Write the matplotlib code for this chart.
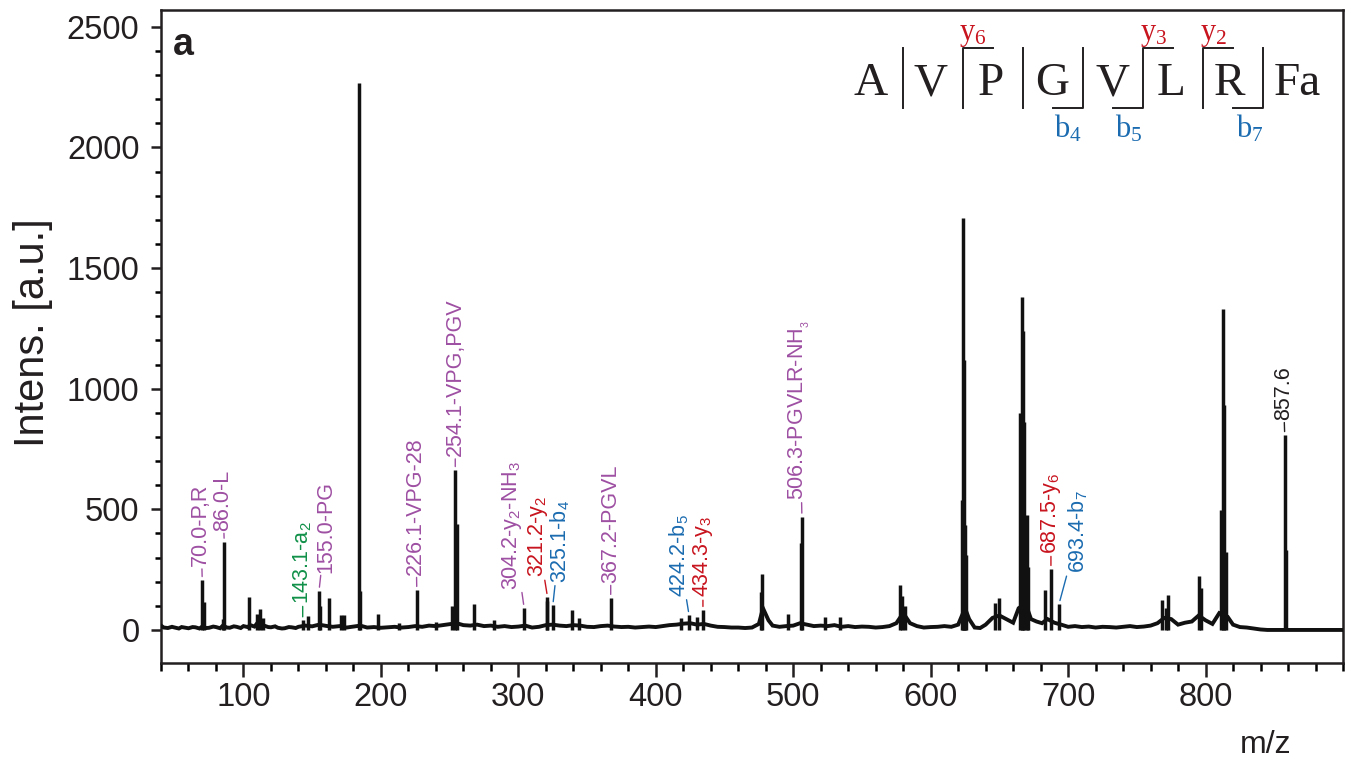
import matplotlib
matplotlib.use("Agg")
import matplotlib.pyplot as plt
from matplotlib.lines import Line2D

plt.rcParams['font.family'] = ['Liberation Sans', 'DejaVu Sans']
plt.rcParams['mathtext.fontset'] = 'custom'
plt.rcParams['mathtext.rm'] = 'Liberation Sans'
plt.rcParams['mathtext.default'] = 'regular'

# ---------------- data ----------------
# baseline / noise trace of the spectrum (m/z, intensity)
baseline_mz = [40, 42, 45, 48, 50, 53, 55, 58, 60, 63, 65, 68, 70, 73, 75, 78, 80, 83, 85, 88,
               90, 93, 95, 98, 100, 103, 105, 108, 110, 113, 115, 118, 120, 123, 125, 128,
               130, 133, 135, 138, 140, 145, 150, 155, 160, 165, 170, 175, 180, 185, 190, 195,
               200, 205, 210, 215, 220, 225, 230, 235, 240, 245, 250, 255, 260, 265, 270, 275,
               280, 285, 290, 295, 300, 305, 310, 315, 320, 325, 330, 335, 340, 345, 350, 355,
               360, 365, 370, 375, 380, 385, 390, 395, 400, 405, 410, 415, 420, 425, 430, 435,
               440, 445, 450, 455, 460, 465, 470, 475, 478, 482, 485, 490, 495, 500, 505, 510,
               515, 520, 525, 530, 535, 540, 545, 550, 555, 560, 565, 570, 575, 580, 585, 590,
               595, 600, 605, 610, 615, 620, 625, 628, 632, 636, 640, 645, 650, 655, 660, 664,
               669, 673, 677, 681, 685, 690, 695, 700, 705, 710, 715, 720, 725, 730, 735, 740,
               745, 750, 755, 760, 765, 770, 775, 780, 785, 790, 795, 800, 805, 810, 816, 820,
               825, 830, 835, 840, 845, 900]
baseline_int = [18, 10, 8, 13, 10, 6, 12, 9, 7, 12, 11, 6, 14, 8, 9, 14, 12, 7, 18, 10,
                9, 15, 13, 8, 16, 12, 20, 14, 28, 22, 18, 12, 11, 15, 9, 6,
                7, 12, 11, 8, 13, 18, 15, 22, 17, 13, 16, 10, 14, 18, 10, 12,
                9, 11, 13, 10, 12, 16, 13, 18, 16, 20, 24, 28, 20, 18, 22, 16,
                18, 13, 16, 12, 14, 18, 10, 13, 20, 22, 18, 16, 20, 18, 13, 12,
                16, 18, 14, 12, 13, 10, 12, 14, 12, 16, 20, 22, 26, 28, 22, 25,
                18, 13, 12, 10, 10, 8, 10, 25, 90, 40, 18, 13, 16, 18, 28, 22,
                16, 18, 16, 20, 13, 16, 12, 14, 13, 10, 12, 16, 28, 70, 28, 16,
                10, 12, 13, 16, 13, 22, 90, 45, 10, 8, 22, 50, 60, 45, 30, 90,
                110, 45, 35, 28, 45, 30, 22, 13, 16, 12, 14, 10, 13, 12, 10, 13,
                16, 12, 14, 18, 28, 50, 45, 22, 30, 35, 60, 40, 25, 70, 55, 22,
                12, 10, 6, 2, 0, 0]

# individual peaks (m/z, intensity)
peak_mz = [70.0, 71.0, 85.0, 86.0, 104.0, 110.0, 112.0, 114.0, 143.1, 147.0, 155.0, 156.0,
           162.0, 171.0, 173.0, 184.0, 185.0, 198.0, 213.0, 226.1, 240.0, 252.0, 254.1, 255.0,
           268.0, 282.0, 304.2, 320.5, 321.2, 325.1, 339.0, 344.0, 367.2, 418.0, 424.2, 430.0,
           434.3, 476.5, 477.3, 496.0, 505.5, 506.3, 523.0, 534.0, 578.0, 579.5, 581.5, 622.5,
           623.4, 624.3, 625.0, 626.0, 647.0, 650.0, 665.0, 666.6, 667.3, 668.0, 670.0, 671.0,
           683.0, 687.5, 693.4, 768.0, 771.0, 773.0, 795.0, 797.0, 811.0, 812.5, 813.5, 815.0,
           857.6, 858.3]
peak_int = [207, 117, 45, 366, 135, 65, 85, 50, 40, 59, 163, 100,
            134, 63, 60, 2268, 160, 66, 30, 166, 35, 100, 663, 440,
            108, 40, 92, 120, 137, 103, 83, 50, 133, 50, 62, 55,
            83, 157, 232, 66, 362, 470, 54, 54, 187, 140, 100, 539,
            1708, 1120, 435, 311, 112, 133, 900, 1381, 1240, 860, 477, 260,
            166, 253, 108, 124, 90, 145, 225, 174, 497, 1331, 933, 325,
            808, 332]

# annotations
ann_mz = [70.0, 86.0, 143.1, 155.0, 226.1, 254.1, 304.2, 321.2, 325.1, 367.2,
          424.2, 434.3, 506.3, 687.5, 693.4, 857.6]
ann_text = ['70.0-P,R', '86.0-L', '143.1-a$_2$', '155.0-PG', '226.1-VPG-28',
            '254.1-VPG,PGV', '304.2-y$_2$-NH$_3$', '321.2-y$_2$', '325.1-b$_4$',
            '367.2-PGVL', '424.2-b$_5$', '434.3-y$_3$', '506.3-PGVLR-NH$_{_3}$',
            '687.5-y$_6$', '693.4-b$_7$', '857.6']
ann_kind = ['other', 'other', 'a', 'other', 'other', 'other', 'other', 'y', 'b',
            'other', 'b', 'y', 'other', 'y', 'b', 'parent']

x_ticks = [100, 200, 300, 400, 500, 600, 700, 800]
y_ticks = [0, 500, 1000, 1500, 2000, 2500]

# peptide sequence
residues = ['A', 'V', 'P', 'G', 'V', 'L', 'R', 'Fa']

# ---------------- styling ----------------
kind_color = {'other': '#9e4fa2', 'y': '#c8141e', 'b': '#1a6bb0', 'a': '#109048',
              'parent': '#231f20'}
# label offsets in points (dx, dy) from the peak top
ann_offset = {70.0: (-1, 10), 86.0: (-1, 8), 143.1: (0, 12), 155.0: (5, 13),
              226.1: (-1, 11), 254.1: (0, 10), 304.2: (-8.5, 13), 321.2: (-7, 14),
              325.1: (5, 16), 367.2: (0, 11), 424.2: (-7, 13), 434.3: (0, 9),
              506.3: (-1.5, 12), 687.5: (0, 11), 693.4: (14, 22), 857.6: (-1, 11)}

W, H = 1350, 763
fig = plt.figure(figsize=(W / 100, H / 100), dpi=100)
ax = fig.add_axes([161 / W, 1 - 663 / H, (1343 - 161) / W, (663 - 10) / H])

ink = '#111111'
ax.plot(baseline_mz, baseline_int, color=ink, lw=2.8, solid_joinstyle='miter', zorder=3)
ax.vlines(peak_mz, 0, peak_int, color=ink, lw=2.5, zorder=3)

peak_lookup = dict(zip(peak_mz, peak_int))
for mz, txt, kind in zip(ann_mz, ann_text, ann_kind):
    h = peak_lookup[mz]
    dx, dy = ann_offset[mz]
    c = kind_color[kind]
    ax.annotate(txt, xy=(mz, h), xytext=(dx, dy), textcoords='offset points',
                rotation=90, ha='center', va='bottom', fontsize=15.5, color=c,
                arrowprops=dict(arrowstyle='-', color=c, lw=1.0, shrinkA=0, shrinkB=2.5),
                zorder=4)

ax.set_xlim(40, 900)
ax.set_ylim(-137, 2570)
ax.set_xticks(x_ticks)
ax.set_xticks(range(40, 901, 20), minor=True)
ax.set_yticks(y_ticks)
ax.set_yticks(range(0, 2501, 100), minor=True)
ax.tick_params(axis='both', which='major', labelsize=23.5, colors='#231f20')
ax.tick_params(axis='x', which='major', length=10, width=1.8, pad=4)
ax.tick_params(axis='x', which='minor', length=5.5, width=1.8)
ax.tick_params(axis='y', which='major', length=7.5, width=1.8, pad=8)
ax.tick_params(axis='y', which='minor', length=4, width=1.8)
for sp in ax.spines.values():
    sp.set_linewidth(1.8)
    sp.set_color('#231f20')

fig.text(33 / W, 1 - 333 / H, 'Intens. [a.u.]', rotation=90, ha='center', va='center',
         fontsize=30, color='#231f20')
fig.text(1266 / W, 1 - 745 / H, 'm/z', ha='center', va='center', fontsize=23,
         color='#231f20')
fig.text(173 / W, 1 - 55 / H, 'a', ha='left', va='baseline', fontsize=27,
         fontweight='bold', color='#231f20')

# ---------------- sequence graphic ----------------
def fx(p):
    return p / W

def fy(p):
    return 1 - p / H

res_x = [871, 930, 991, 1052, 1112, 1171, 1229, 1297]
for r, x in zip(residues, res_x):
    fig.text(fx(x), fy(95), r, ha='center', va='baseline', fontsize=34,
             family='Liberation Serif', color='#231f20')

seq_top, seq_bot = 48, 108
lc = '#231f20'

def fline(xs, ys):
    fig.add_artist(Line2D([fx(v) for v in xs], [fy(v) for v in ys],
                          transform=fig.transFigure, color=lc, lw=1.4))

# plain cleavage bars
fline([903, 903], [seq_top, seq_bot])
fline([1023, 1023], [seq_top, seq_bot])
# y6: top-right bracket
fline([963, 963, 993], [seq_bot, seq_top, seq_top])
# b4: bottom-left bracket
fline([1053, 1083, 1083], [seq_bot, seq_bot, seq_top])
# b5 + y3
fline([1113, 1143, 1143, 1173], [seq_bot, seq_bot, seq_top, seq_top])
# y2
fline([1203, 1203, 1233], [seq_bot, seq_top, seq_top])
# b7
fline([1233, 1263, 1263], [seq_bot, seq_bot, seq_top])

red, blue = kind_color['y'], kind_color['b']
for txt, x in [('y$_6$', 973), ('y$_3$', 1154), ('y$_2$', 1214)]:
    fig.text(fx(x), fy(40), txt, ha='center', va='baseline', fontsize=22,
             family='Liberation Serif', color=red)
for txt, x in [('b$_4$', 1068), ('b$_5$', 1129), ('b$_7$', 1250)]:
    fig.text(fx(x), fy(137), txt, ha='center', va='baseline', fontsize=22,
             family='Liberation Serif', color=blue)

fig.savefig('out.png', dpi=100)
